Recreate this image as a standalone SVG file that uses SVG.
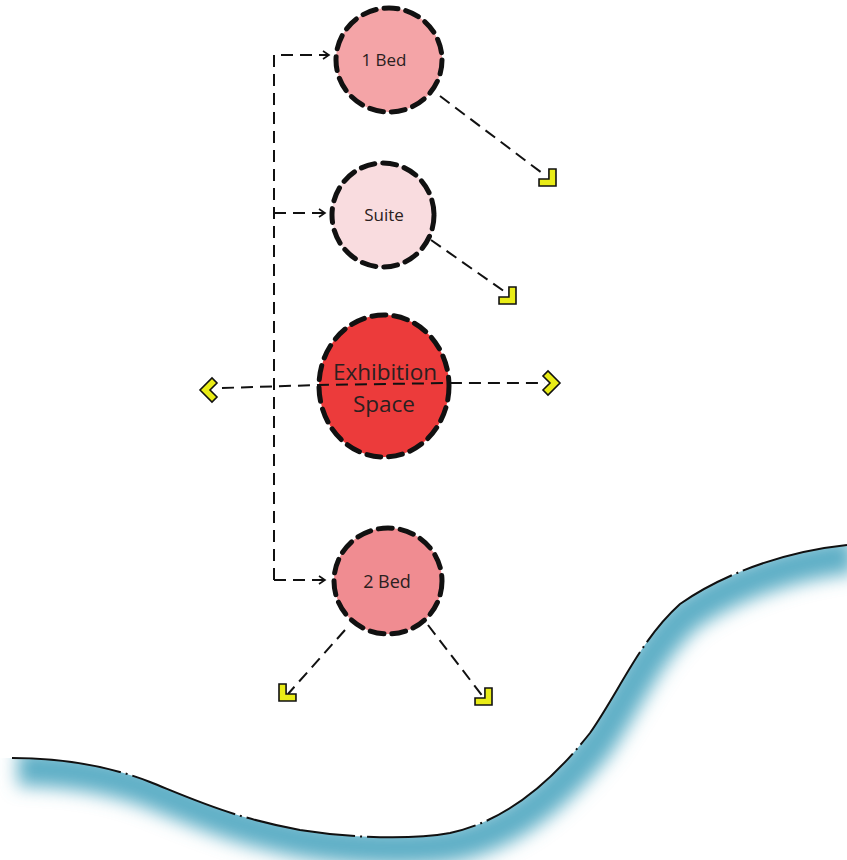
<svg xmlns="http://www.w3.org/2000/svg" width="847" height="860" viewBox="0 0 847 860">
<style>
.node circle,.node ellipse{stroke:#111;stroke-width:5;stroke-dasharray:14 8;stroke-linecap:round}
.lbl{font-family:"Open Sans","Liberation Sans",sans-serif;fill:#2a2020;text-anchor:middle}
.dash{fill:none;stroke:#111;stroke-width:2;stroke-dasharray:12 7}
.chev{fill:#e9ec17;stroke:#111;stroke-width:1.6;stroke-linejoin:miter}
.coast{fill:none;stroke:#111;stroke-width:2;stroke-dasharray:110 5 2 5}
</style>
<defs>
<marker id="ah" markerWidth="10" markerHeight="10" refX="8" refY="5" orient="auto" markerUnits="userSpaceOnUse">
<path d="M2,1 L8,5 L2,9" fill="none" stroke="#111" stroke-width="1.6"/>
</marker>
<path id="chv" d="M0 0 L-12 -12 L-17 -7 L-10 0 L-17 7 L-12 12 Z"/>
<filter id="blur" x="-10%" y="-30%" width="120%" height="160%"><feGaussianBlur stdDeviation="9"/></filter>
<path id="c1" d="M12 758 C60 758 110 766 150 782 C190 798 230 817 300 830 C350 838 410 840 450 833 C500 822 545 790 590 733 C620 690 640 640 680 604 C720 576 780 552 847 545"/>
<clipPath id="below"><path d="M12 758 C60 758 110 766 150 782 C190 798 230 817 300 830 C350 838 410 840 450 833 C500 822 545 790 590 733 C620 690 640 640 680 604 C720 576 780 552 847 545 L847 860 L0 860 L0 758 Z"/></clipPath>
</defs>
<rect width="847" height="860" fill="#fff"/>
<g id="water" clip-path="url(#below)">
<use href="#c1" transform="translate(6,10)" fill="none" stroke="#5fafc6" stroke-width="36" filter="url(#blur)"/>
</g>
<use href="#c1" class="coast"/>
<g id="connectors">
<path class="dash" d="M274 580 L274 55 L329 55" marker-end="url(#ah)"/>
<path class="dash" d="M274 213 L325 213" marker-end="url(#ah)"/>
<path class="dash" d="M274 580 L325 580" marker-end="url(#ah)"/>
<path class="dash" d="M440 96 L546 176" stroke-dasharray="16 8"/>
<path class="dash" d="M431 240 L508 294" stroke-dasharray="14 8"/>
<path class="dash" d="M345 630 L288 694"/>
<path class="dash" d="M428 625 L484 698"/>
</g>
<g id="n1bed" class="node">
<ellipse cx="389" cy="60" rx="53" ry="52" fill="#f4a4a7"/>
<text class="lbl" x="384" y="66" font-size="17">1 Bed</text>
</g>
<g id="nsuite" class="node">
<ellipse cx="383" cy="215" rx="51" ry="52" fill="#f9dcdf"/>
<text class="lbl" x="384" y="221" font-size="17">Suite</text>
</g>
<g id="nexhibition" class="node">
<ellipse cx="384" cy="386" rx="65" ry="71" fill="#ec3b3b"/>
</g>
<g id="n2bed" class="node">
<ellipse cx="388" cy="581" rx="54" ry="53" fill="#f08c91"/>
<text class="lbl" x="387" y="588" font-size="18">2 Bed</text>
</g>
<g id="exline">
<path class="dash" d="M222 388 L318 385 L450 383 L545 383" stroke-dasharray="13 8"/>
<text class="lbl" x="385" y="380" font-size="22.5">Exhibition</text>
<text class="lbl" x="384" y="412" font-size="22.5">Space</text>
</g>
<g id="chevrons">
<use href="#chv" class="chev" transform="translate(556,186) rotate(45)"/>
<use href="#chv" class="chev" transform="translate(516,304) rotate(45)"/>
<use href="#chv" class="chev" transform="translate(560,383)"/>
<use href="#chv" class="chev" transform="translate(200,390) rotate(180)"/>
<use href="#chv" class="chev" transform="translate(279,701) rotate(135)"/>
<use href="#chv" class="chev" transform="translate(492,705) rotate(45)"/>
</g>
</svg>
